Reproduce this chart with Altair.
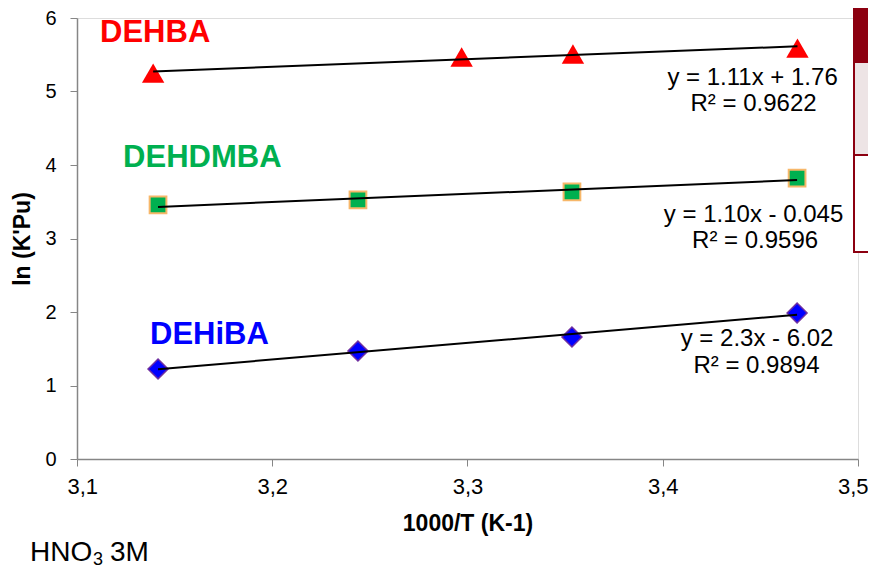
import altair as alt
import pandas as pd

# ---- data ----
x_dehba = [3.139, 3.297, 3.354, 3.469]
y_dehba = [5.25, 5.47, 5.51, 5.59]

x_dehdmba = [3.1415, 3.2439, 3.3535, 3.4688]
y_dehdmba = [3.456, 3.524, 3.633, 3.823]

x_dehiba = [3.1415, 3.2439, 3.3535, 3.4688]
y_dehiba = [1.224, 1.469, 1.660, 1.986]

series_names = ["DEHBA", "DEHDMBA", "DEHiBA"]
series_colors = ["#FF0000", "#00B050", "#0000FF"]
label_x = [3.1118, 3.1236, 3.1374]
label_y = [5.80, 4.095, 1.687]

eq_texts = ["y = 1.11x + 1.76", "R² = 0.9622",
            "y = 1.10x - 0.045", "R² = 0.9596",
            "y = 2.3x - 6.02", "R² = 0.9894"]
eq_x = [3.4460, 3.4465, 3.4465, 3.4473, 3.4483, 3.4480]
eq_y = [5.18, 4.83, 3.32, 2.97, 1.63, 1.265]

x_ticks = [3.1, 3.2, 3.3, 3.4, 3.5]

W, H = 781, 441
FONT = "Liberation Sans"

df = pd.concat([
    pd.DataFrame({"x": x_dehba, "y": y_dehba, "s": "DEHBA"}),
    pd.DataFrame({"x": x_dehdmba, "y": y_dehdmba, "s": "DEHDMBA"}),
    pd.DataFrame({"x": x_dehiba, "y": y_dehiba, "s": "DEHiBA"}),
], ignore_index=True)

xs = alt.Scale(domain=[3.1, 3.5], nice=False, zero=False)
ys = alt.Scale(domain=[0, 6], nice=False)

X = alt.X("x:Q", scale=xs, axis=alt.Axis(
    values=x_ticks, labelExpr="replace(format(datum.value, '.1f'), '.', ',')",
    title="1000/T (K-1)", titleFontSize=23, titleFontWeight="bold", titleFont=FONT,
    titleX=W / 2, titleY=64, titleBaseline="middle",
    labelFontSize=22, labelFont=FONT, labelColor="#000000", labelPadding=10,
    labelOverlap=False, labelBound=False, labelFlush=True, labelFlushOffset=10,
    tickSize=7, tickColor="#868686", domainColor="#868686", domainWidth=1.5,
    grid=False))
Y = alt.Y("y:Q", scale=ys, axis=alt.Axis(
    values=[0, 1, 2, 3, 4, 5, 6], format="d",
    title="ln (K'Pu)", titleFontSize=23, titleFontWeight="bold", titleFont=FONT,
    titlePadding=10,
    labelFontSize=20, labelFont=FONT, labelColor="#000000", labelPadding=14,
    tickSize=7, tickColor="#868686", domainColor="#868686", domainWidth=1.5,
    grid=False))

base = alt.Chart(df)

pts_a = alt.Chart(df[df.s == "DEHBA"]).mark_point(
    shape="triangle-up", filled=True, size=500, color="#FF0000", opacity=1
).encode(x=X, y=Y)
pts_b = alt.Chart(df[df.s == "DEHDMBA"]).mark_point(
    shape="square", filled=True, size=280, fill="#00B050", stroke="#F7B76A",
    strokeWidth=2, opacity=1
).encode(x=X, y=Y)
pts_c = alt.Chart(df[df.s == "DEHiBA"]).mark_point(
    shape="diamond", filled=True, size=400, fill="#0000FF", stroke="#7030A0",
    strokeWidth=1.5, opacity=1
).encode(x=X, y=Y)

trend = base.transform_regression("x", "y", groupby=["s"]).mark_line(
    color="black", strokeWidth=2
).encode(x=X, y=Y, detail="s:N")

lab_df = pd.DataFrame({"x": label_x, "y": label_y, "t": series_names, "c": series_colors})
labels = alt.Chart(lab_df).mark_text(
    align="left", baseline="middle", font=FONT, fontSize=31, fontWeight="bold"
).encode(x=X, y=Y, text="t:N",
         color=alt.Color("c:N", scale=None))

eq_df = pd.DataFrame({"x": eq_x, "y": eq_y, "t": eq_texts})
eqs = alt.Chart(eq_df).mark_text(
    align="center", baseline="middle", font=FONT, fontSize=24, color="#000000"
).encode(x=X, y=Y, text="t:N")

one = pd.DataFrame({"a": [0]})
box_top = alt.Chart(one).mark_rect(color="#8C0010").encode(
    x=alt.value(776), x2=alt.value(800), y=alt.value(-10), y2=alt.value(44))
box_mid = alt.Chart(one).mark_rect(fill="#EDE4E5", stroke="#8C0010", strokeWidth=2).encode(
    x=alt.value(777), x2=alt.value(800), y=alt.value(44), y2=alt.value(137))
box_bot = alt.Chart(one).mark_rect(fill="#FFFFFF", stroke="#8C0010", strokeWidth=2).encode(
    x=alt.value(777), x2=alt.value(800), y=alt.value(137), y2=alt.value(234))

hno = alt.Chart(one).mark_text(align="left", baseline="alphabetic", font=FONT,
                               fontSize=28, color="#000000", text="HNO").encode(
    x=alt.value(-47), y=alt.value(543))
sub3 = alt.Chart(one).mark_text(align="left", baseline="alphabetic", font=FONT,
                                fontSize=18, color="#000000", text="3").encode(
    x=alt.value(16), y=alt.value(547))
m3 = alt.Chart(one).mark_text(align="left", baseline="alphabetic", font=FONT,
                              fontSize=28, color="#000000", text="3M").encode(
    x=alt.value(33), y=alt.value(543))

chart = alt.layer(
    pts_a, pts_b, pts_c, trend, labels, eqs,
    box_top, box_mid, box_bot, hno, sub3, m3
).properties(
    width=W, height=H,
    autosize=alt.AutoSizeParams(type="none"),
    padding={"left": 69, "top": 10, "right": 10, "bottom": 111},
).configure_view(stroke=None).configure(background="white")

chart.save("out.html", embed_options={"renderer": "svg", "actions": False})
